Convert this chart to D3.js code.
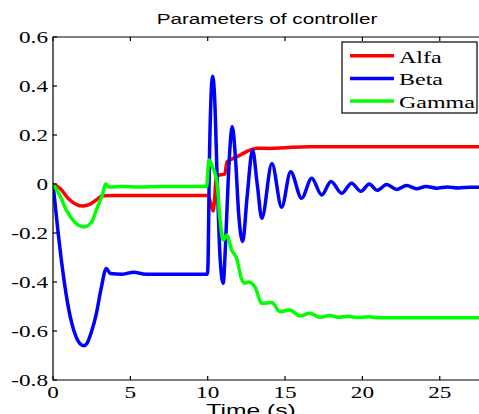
<!DOCTYPE html>
<html>
<head>
<meta charset="utf-8">
<script src="https://cdn.jsdelivr.net/npm/d3@7"></script>
<style>
  body { margin: 0; background: #fff; }
  svg { display: block; }
</style>
</head>
<body>
<div id="app"></div>
<script>
// [time (s), value] pairs
const alfa = [
  [0, 0], [0.5, -0.02], [1.0, -0.06], [1.5, -0.083], [1.94, -0.09], [2.4, -0.082],
  [2.8, -0.065], [3.2, -0.048], [4, -0.047], [10.04, -0.047], [10.2, -0.08],
  [10.35, -0.11], [10.45, -0.06], [10.55, 0.03], [10.8, 0.037], [11.1, 0.04],
  [11.25, 0.09], [11.5, 0.1], [12.1, 0.118], [12.6, 0.135], [13.2, 0.146],
  [14, 0.145], [15, 0.148], [16.5, 0.152], [30, 0.152]
]
const beta = [
  [0, 0], [0.3, -0.18], [0.6, -0.34], [0.9, -0.47], [1.2, -0.565], [1.5, -0.625],
  [1.8, -0.655], [2.0, -0.66], [2.2, -0.65], [2.5, -0.6], [2.8, -0.53], [3.1, -0.43],
  [3.45, -0.345], [3.7, -0.365], [4.5, -0.368], [5.2, -0.36], [6, -0.368], [9.98, -0.368],
  [10.03, -0.3], [10.1, 0.05], [10.2, 0.33], [10.32, 0.44], [10.45, 0.35], [10.6, 0.05],
  [10.8, -0.3], [11.0, -0.405], [11.15, -0.25], [11.35, 0.05], [11.59, 0.234],
  [11.8, 0.1], [12.0, -0.12], [12.26, -0.235], [12.55, -0.05], [12.9, 0.139],
  [13.2, 0.0], [13.5, -0.14], [14.15, 0.084], [14.78, -0.095], [15.36, 0.05],
  [16.07, -0.058], [16.72, 0.023], [17.37, -0.045], [17.97, 0.01], [18.66, -0.038],
  [19.3, 0.003], [19.9, -0.03], [20.45, 0.0], [20.95, -0.026], [21.57, -0.002],
  [22.2, -0.022], [22.86, -0.006], [23.5, -0.019], [24.1, -0.01], [24.8, -0.017],
  [25.5, -0.012], [26.2, -0.016], [27, -0.013], [30, -0.014]
]
const gamma = [
  [0, 0], [0.43, -0.045], [0.86, -0.106], [1.4, -0.155], [2.0, -0.175], [2.5, -0.155],
  [2.8, -0.106], [3.19, -0.045], [3.4, 0.0], [3.6, -0.012], [4.5, -0.01], [5.5, -0.012],
  [7, -0.01], [9.93, -0.01], [10.08, 0.098], [10.3, 0.07], [10.47, 0.044], [10.58, 0.016],
  [10.8, -0.147], [11.0, -0.229], [11.23, -0.208], [11.55, -0.27], [11.87, -0.303],
  [12.2, -0.39], [12.4, -0.405], [12.63, -0.4], [13.06, -0.42], [13.49, -0.487],
  [14.14, -0.484], [14.67, -0.521], [15.32, -0.514], [15.97, -0.539], [16.6, -0.528],
  [17.26, -0.544], [17.9, -0.537], [18.44, -0.544], [19.09, -0.54], [19.7, -0.545],
  [20.4, -0.542], [21, -0.546], [30, -0.546]
]

const seriesNames = ['Alfa', 'Beta', 'Gamma']
const xTicks = [0, 5, 10, 15, 20, 25]
const yTicks = [0.6, 0.4, 0.2, 0, -0.2, -0.4, -0.6, -0.8]
const titleText = 'Parameters of controller'
const xLabelText = 'Time (s)'

const colors = { 'Alfa': '#ff0000', 'Beta': '#0000ff', 'Gamma': '#00ff00' }
const data = { 'Alfa': alfa, 'Beta': beta, 'Gamma': gamma }

const width = 479
const height = 414
const mLeft = 53, mTop = 37, mBottom = 380

const x = d3.scaleLinear().domain([0, 28]).range([mLeft, mLeft + 28 * 15.47])
const y = d3.scaleLinear().domain([-0.8, 0.6]).range([mBottom, mTop])

const svg = d3.select('#app')
  .append('svg')
  .attr('width', width)
  .attr('height', height)

// text in the source is stretched sideways, keep that with a scale
const serif = '"Liberation Serif", "Times New Roman", serif'
const sans = '"Liberation Sans", Arial, sans-serif'
function addText(g, str, tx, ty, opts) {
  return g.append('text')
    .attr('transform', `translate(${tx},${ty}) scale(${opts.sx},1)`)
    .attr('text-anchor', opts.anchor || 'start')
    .attr('font-family', opts.family)
    .attr('font-size', opts.size)
    .attr('fill', '#000')
    .text(str)
}

const line = d3.line()
  .x(d => x(d[0]))
  .y(d => y(d[1]))
  .curve(d3.curveMonotoneX)

const plot = svg.append('g')
plot.append('clipPath').attr('id', 'clip')
  .append('rect')
  .attr('x', mLeft).attr('y', mTop)
  .attr('width', x(28) - mLeft).attr('height', mBottom - mTop)

plot.selectAll('path.series')
  .data(seriesNames)
  .join('path')
  .attr('class', 'series')
  .attr('clip-path', 'url(#clip)')
  .attr('d', d => line(data[d]))
  .attr('fill', 'none')
  .attr('stroke', d => colors[d])
  .attr('stroke-width', 3.5)
  .attr('stroke-linejoin', 'round')

// axes box (right side is out of frame)
const axes = svg.append('g')
  .attr('stroke', '#000')
  .attr('stroke-width', 1.2)
  .attr('fill', 'none')
axes.append('path')
  .attr('d', `M${x(28)},${mTop}H${mLeft}V${mBottom}H${x(28)}`)

axes.selectAll('line.xt')
  .data(xTicks)
  .join('line')
  .attr('class', 'xt')
  .attr('x1', d => x(d)).attr('x2', d => x(d))
  .attr('y1', mBottom).attr('y2', mBottom - 4)
axes.selectAll('line.xtt')
  .data(xTicks)
  .join('line')
  .attr('class', 'xtt')
  .attr('x1', d => x(d)).attr('x2', d => x(d))
  .attr('y1', mTop).attr('y2', mTop + 4)
axes.selectAll('line.yt')
  .data(yTicks)
  .join('line')
  .attr('class', 'yt')
  .attr('x1', mLeft).attr('x2', mLeft + 4)
  .attr('y1', d => y(d)).attr('y2', d => y(d))

const labels = svg.append('g')
xTicks.forEach(t => {
  addText(labels, String(t), x(t), 398, { sx: 1.45, family: serif, size: 16, anchor: 'middle' })
})
yTicks.forEach(v => {
  addText(labels, String(v), 48, y(v) + 5.5, { sx: 1.45, family: serif, size: 16, anchor: 'end' })
})

addText(labels, titleText, 267, 24, { sx: 1.38, family: sans, size: 15, anchor: 'middle' })
// the axis label sits half outside the frame in the source
addText(labels, xLabelText, 251, 416, { sx: 1.45, family: sans, size: 17, anchor: 'middle' })

// legend
const legend = svg.append('g')
legend.append('rect')
  .attr('x', 342).attr('y', 42)
  .attr('width', 135).attr('height', 71)
  .attr('fill', '#fff')
  .attr('stroke', '#000')
  .attr('stroke-width', 1.2)

const items = legend.selectAll('g.item')
  .data(seriesNames)
  .join('g')
  .attr('class', 'item')
  .attr('transform', (d, i) => `translate(0,${55.7 + i * 22.7})`)
items.append('line')
  .attr('x1', 350).attr('x2', 394)
  .attr('stroke', d => colors[d])
  .attr('stroke-width', 3.5)
items.each(function (d) {
  addText(d3.select(this), d, 399, 7, { sx: 1.5, family: serif, size: 16 })
})
</script>
</body>
</html>
